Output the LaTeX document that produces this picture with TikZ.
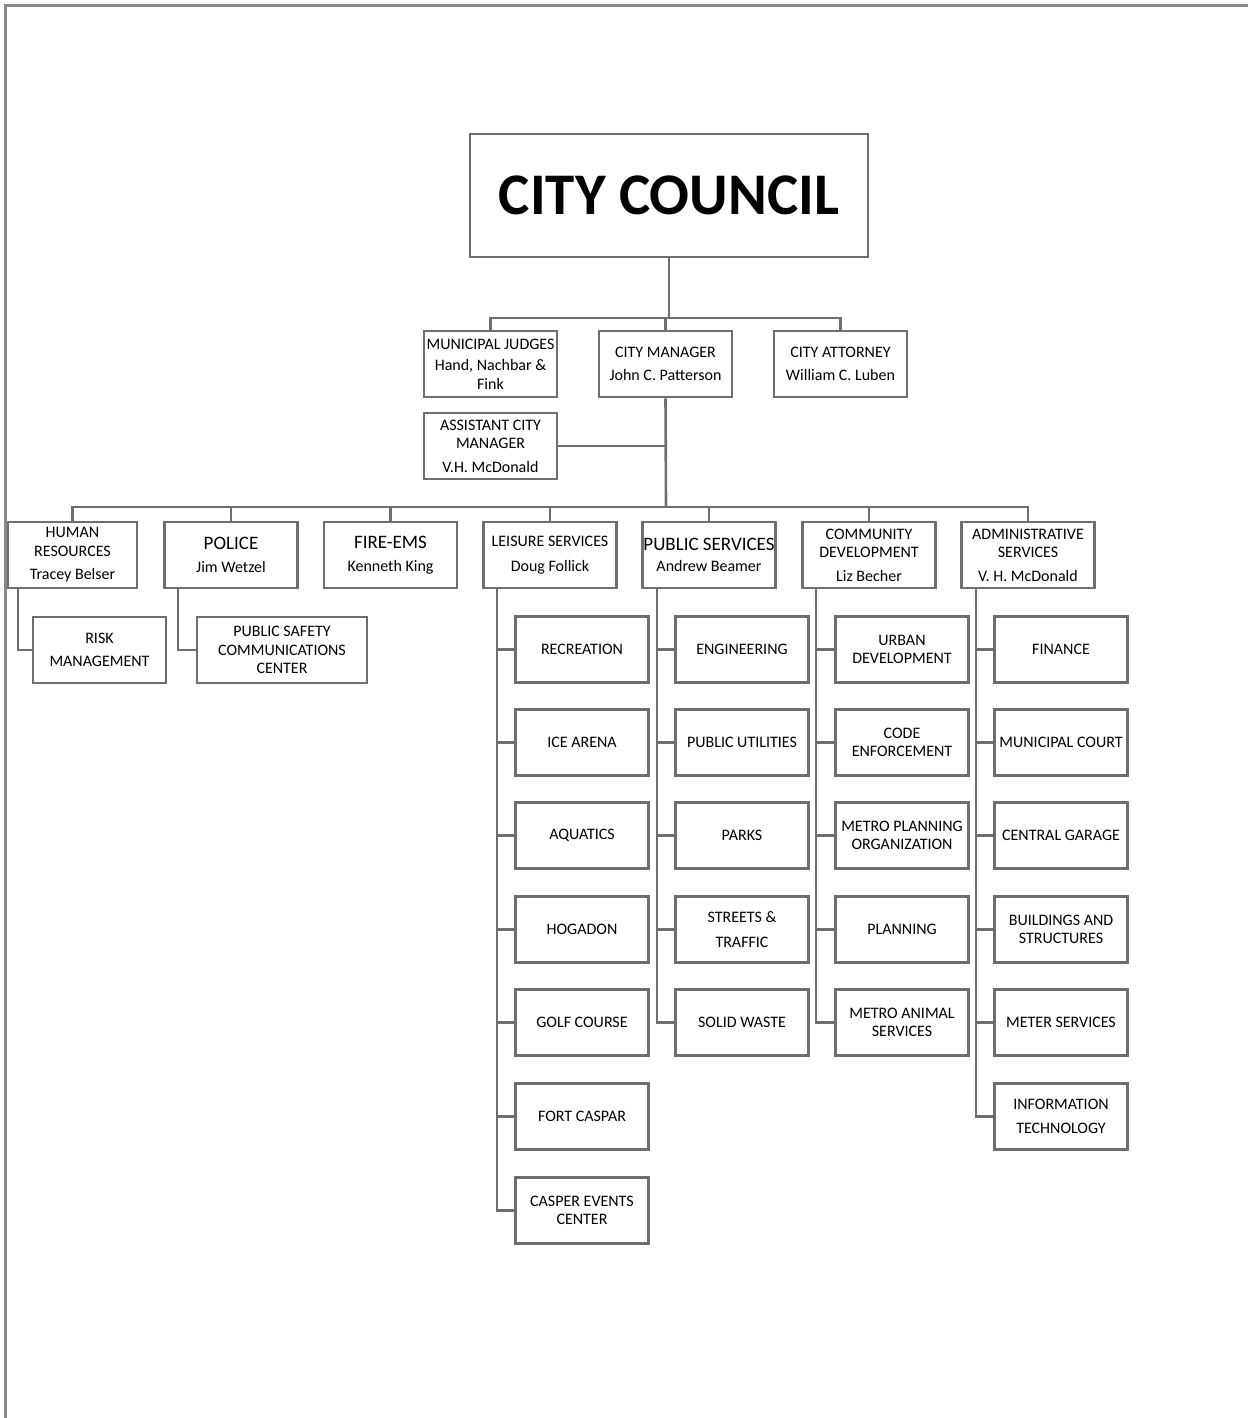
\documentclass[tikz,border=0pt]{standalone}
\usepackage{fontspec}
\setmainfont{Carlito}
\definecolor{linegray}{HTML}{6E6E6E}
\definecolor{framegray}{HTML}{8A8A8A}
\newcommand{\smallf}{\fontsize{16}{18.5}\selectfont}
\newcommand{\bigf}{\fontsize{19}{22}\selectfont}
\tikzset{
  box/.style={draw=linegray, line width=2.6pt, fill=white, minimum width=133pt,
    minimum height=66pt, align=center, inner sep=0pt, font=\smallf, text=black},
  conn/.style={draw=linegray, line width=2.6pt},
  frame/.style={draw=framegray, line width=3pt}
}
\begin{document}
\begin{tikzpicture}[x=1pt,y=-1pt]
\useasboundingbox (0,0) rectangle (1248,1418);
\draw[frame] (5,1418) -- (5,6) -- (1248,6);

% top
\node[box, minimum width=398pt, minimum height=123pt, font=\fontsize{59}{66}\selectfont\bfseries] (council) at (669,195.5) {CITY COUNCIL};
\node[box] (mj) at (490.5,364) {MUNICIPAL JUDGES\\[3pt]Hand, Nachbar \&\\Fink};
\node[box] (cm) at (665.5,364) {CITY MANAGER\\[4pt]John C. Patterson};
\node[box] (ca) at (840.5,364) {CITY ATTORNEY\\[4pt]William C. Luben};
\node[box] (acm) at (490.5,446) {ASSISTANT CITY\\MANAGER\\[5pt]V.H. McDonald};

% departments
\node[box, minimum width=129pt] (hr) at (72.5,555) {HUMAN\\RESOURCES\\[5pt]Tracey Belser};
\node[box] (pol) at (231,555) {{\bigf POLICE}\\[4pt]Jim Wetzel};
\node[box] (fire) at (390.5,555) {{\bigf FIRE-EMS}\\[4pt]Kenneth King};
\node[box] (leis) at (550,555) {LEISURE SERVICES\\[6pt]Doug Follick};
\node[box] (pubs) at (709,555) {{\bigf PUBLIC SERVICES}\\[2pt]Andrew Beamer};
\node[box] (comm) at (869,555) {COMMUNITY\\DEVELOPMENT\\[5pt]Liz Becher};
\node[box] (adm) at (1028,555) {ADMINISTRATIVE\\SERVICES\\[5pt]V. H. McDonald};

% sub units
\node[box] (risk) at (99.5,650) {RISK\\[5pt]MANAGEMENT};
\node[box, minimum width=170pt] (psc) at (282,650) {PUBLIC SAFETY\\COMMUNICATIONS\\CENTER};

\node[box] (l1) at (582,649.5) {RECREATION};
\node[box] (l2) at (582,742.5) {ICE ARENA};
\node[box] (l3) at (582,835.5) {AQUATICS};
\node[box] (l4) at (582,929.5) {HOGADON};
\node[box] (l5) at (582,1022.5) {GOLF COURSE};
\node[box] (l6) at (582,1116.5) {FORT CASPAR};
\node[box] (l7) at (582,1210.5) {CASPER EVENTS\\CENTER};

\node[box] (p1) at (742,649.5) {ENGINEERING};
\node[box] (p2) at (742,742.5) {PUBLIC UTILITIES};
\node[box] (p3) at (742,835.5) {PARKS};
\node[box] (p4) at (742,929.5) {STREETS \&\\[6pt]TRAFFIC};
\node[box] (p5) at (742,1022.5) {SOLID WASTE};

\node[box] (c1) at (902,649.5) {URBAN\\DEVELOPMENT};
\node[box] (c2) at (902,742.5) {CODE\\ENFORCEMENT};
\node[box] (c3) at (902,835.5) {METRO PLANNING\\ORGANIZATION};
\node[box] (c4) at (902,929.5) {PLANNING};
\node[box] (c5) at (902,1022.5) {METRO ANIMAL\\SERVICES};

\node[box] (a1) at (1061,649.5) {FINANCE};
\node[box] (a2) at (1061,742.5) {MUNICIPAL COURT};
\node[box] (a3) at (1061,835.5) {CENTRAL GARAGE};
\node[box] (a4) at (1061,929.5) {BUILDINGS AND\\STRUCTURES};
\node[box] (a5) at (1061,1022.5) {METER SERVICES};
\node[box] (a6) at (1061,1116.5) {INFORMATION\\[6pt]TECHNOLOGY};

% connectors: top
\coordinate (bar1) at (669,318);
\draw[conn] (council.south) -- (bar1);
\draw[conn] (mj.north) -- (mj.north |- bar1) -| (ca.north);
\draw[conn] (cm.north) -- (cm.north |- bar1);
\coordinate (bar2) at (666,507);
\draw[conn] (cm.south) -- (bar2);
\draw[conn] (acm.east) -- (acm.east -| cm.south);
\draw[conn] (hr.north) -- (hr.north |- bar2) -| (adm.north);
\foreach \n in {pol,fire,leis,pubs,comm}{
  \draw[conn] (\n.north) -- (\n.north |- bar2);
}

% connectors: sub units
\draw[conn] ([xshift=-54.5pt]hr.south) |- (risk.west);
\draw[conn] ([xshift=-53pt]pol.south) |- (psc.west);

\coordinate (lx) at ([xshift=-53pt]leis.south);
\draw[conn] (lx) |- (l7.west);
\foreach \i in {1,...,6}{\draw[conn] (l\i.west) -- (l\i.west -| lx);}

\coordinate (px) at ([xshift=-52pt]pubs.south);
\draw[conn] (px) |- (p5.west);
\foreach \i in {1,...,4}{\draw[conn] (p\i.west) -- (p\i.west -| px);}

\coordinate (cx) at ([xshift=-53pt]comm.south);
\draw[conn] (cx) |- (c5.west);
\foreach \i in {1,...,4}{\draw[conn] (c\i.west) -- (c\i.west -| cx);}

\coordinate (ax) at ([xshift=-52pt]adm.south);
\draw[conn] (ax) |- (a6.west);
\foreach \i in {1,...,5}{\draw[conn] (a\i.west) -- (a\i.west -| ax);}
\end{tikzpicture}
\end{document}
